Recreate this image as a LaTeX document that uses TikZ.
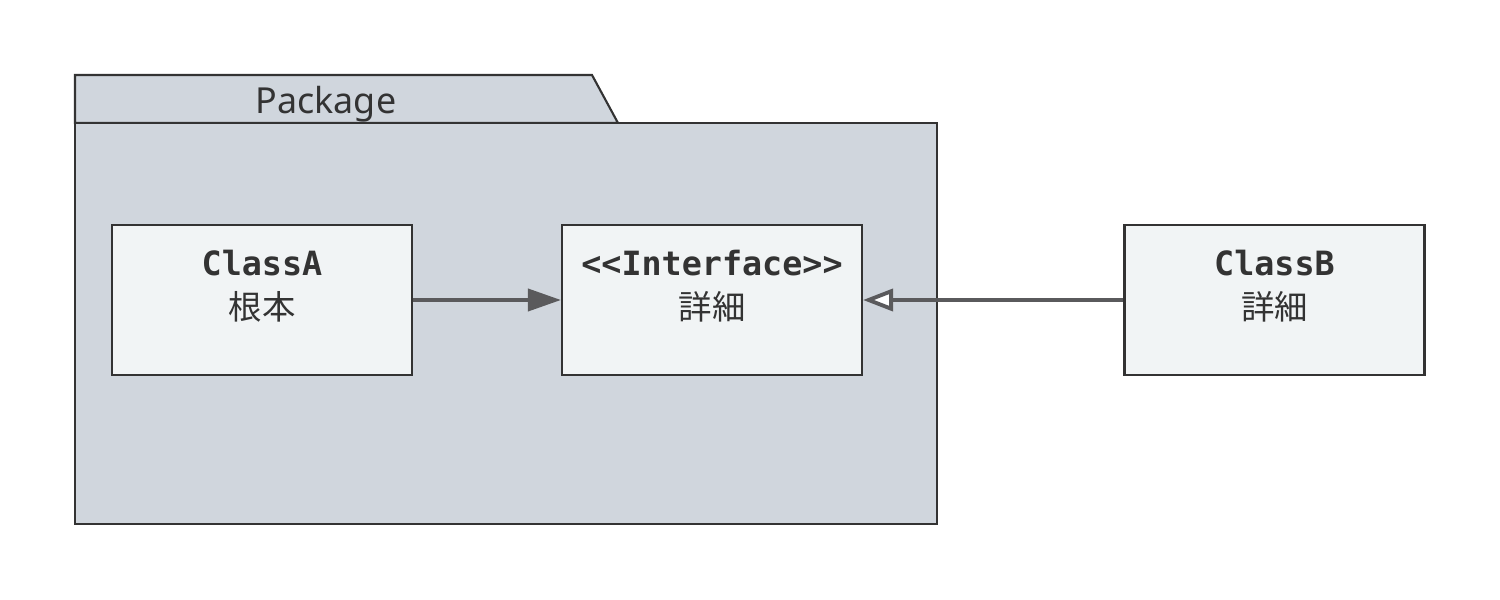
\documentclass[tikz,border=0pt]{standalone}
\usepackage{fontspec}
\setmainfont{Noto Sans}
\setmonofont{DejaVu Sans Mono}
\newfontfamily\cjk{Noto Sans CJK JP}
\usepackage{tikz}
\usetikzlibrary{arrows.meta,positioning,calc}
\definecolor{pkgfill}{HTML}{D0D6DD}
\definecolor{boxfill}{HTML}{F1F4F5}
\definecolor{edge}{HTML}{333333}
\definecolor{wire}{HTML}{5A5A5C}

\begin{document}
\begin{tikzpicture}[
    classbox/.style={draw=edge, line width=0.6pt, fill=boxfill, text=edge,
      minimum width=3cm, minimum height=1.5cm, align=center,
      font=\fontsize{9.5}{12.5}\selectfont},
    pkgline/.style={draw=edge, line width=0.6pt, fill=pkgfill}
  ]
    \useasboundingbox (0,0) rectangle (15,6);
    % package tab and body
    \draw[pkgline] (0.75,4.77) -- (0.75,5.25) -- (5.92,5.25) -- (6.18,4.77) -- cycle;
    \draw[pkgline] (0.75,0.76) rectangle (9.37,4.77);
    \node[text=edge, font=\fontsize{10.2}{12}\selectfont] (pkgname) at (3.26,4.96) {Package};
    % classes
    \node[classbox] (classA) at (2.62,3.0)
      {{\ttfamily\bfseries ClassA}\\{\cjk 根本}\\[-4pt]\mbox{}};
    \node[classbox] (iface) at (7.12,3.0)
      {{\ttfamily\bfseries <{}<Interface>{}>}\\{\cjk 詳細}\\[-4pt]\mbox{}};
    \node[classbox] (classB) at (12.745,3.0)
      {{\ttfamily\bfseries ClassB}\\{\cjk 詳細}\\[-4pt]\mbox{}};
    % relations
    \draw[wire, line width=1.1pt, -{Triangle[length=0.33cm, width=0.22cm]}]
      (classA.east) -- (iface.west);
    \draw[wire, line width=1.1pt, -{Triangle[open, fill=white, length=0.3cm, width=0.22cm]}]
      (classB.west) -- (iface.east);
\end{tikzpicture}
\end{document}
